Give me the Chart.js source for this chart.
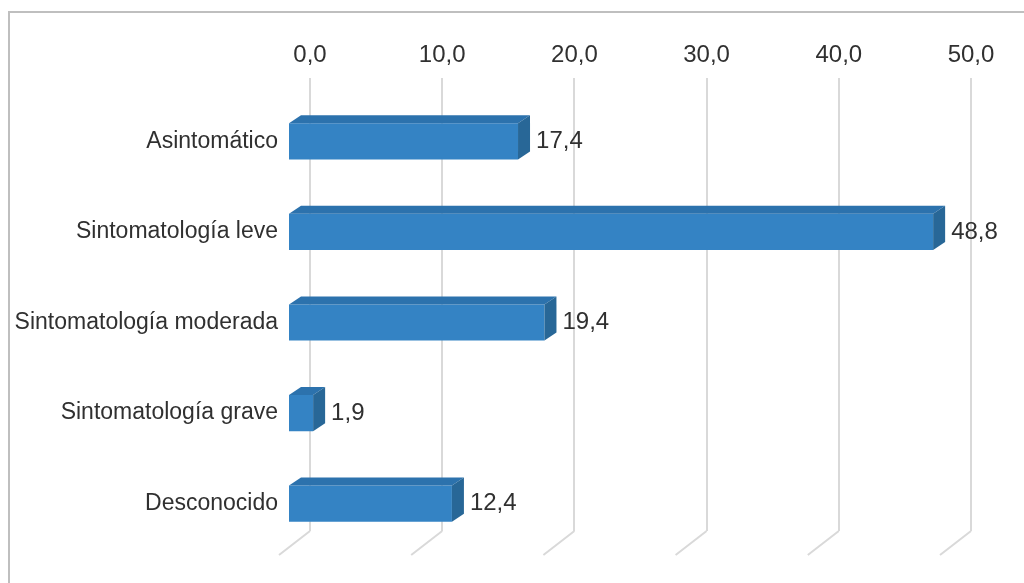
<!DOCTYPE html>
<html lang="es">
<head>
<meta charset="utf-8">
<title>Sintomatología</title>
<script src="https://cdn.jsdelivr.net/npm/chart.js@4/dist/chart.umd.min.js"></script>
<style>
  html, body { margin: 0; padding: 0; background: #fff; overflow: hidden; }
  #marco { position: absolute; left: 8px; top: 11px; width: 1100px; height: 700px;
           border-top: 2px solid #bfbfbf; border-left: 2px solid #bfbfbf; }
  #grafico { position: absolute; left: 0; top: 0; }
</style>
</head>
<body>
<div id="marco"></div>
<canvas id="grafico" width="1024" height="583"></canvas>
<script>
// datos
const categorias = ['Asintomático', 'Sintomatología leve', 'Sintomatología moderada', 'Sintomatología grave', 'Desconocido'];
const porcentajes = [17.4, 48.8, 19.4, 1.9, 12.4];
const ejeMin = 0;
const ejeMax = 50;
const ejePaso = 10;

// efecto 3D: desplazamiento de la cara frontal y profundidad de la barra
const FRENTE = { dx: -22, dy: 18 };
const FONDO = { dx: 12, dy: -8 };
const colorTexto = '#303030';

const formatoComa = v => Number(v).toFixed(1).replace('.', ',');

const barras3D = {
    id: 'barras3D',
    beforeDatasetsDraw(chart) {
        const ctx = chart.ctx;
        ctx.save();
        ctx.translate(FRENTE.dx, FRENTE.dy);
    },
    afterDatasetsDraw(chart) {
        const ctx = chart.ctx;
        const meta = chart.getDatasetMeta(0);
        meta.data.forEach((bar, i) => {
            const { x, y, base, height } = bar.getProps(['x', 'y', 'base', 'height'], true);
            const top = y - height / 2, bottom = y + height / 2;
            // cara superior
            ctx.beginPath();
            ctx.moveTo(base, top);
            ctx.lineTo(x, top);
            ctx.lineTo(x + FONDO.dx, top + FONDO.dy);
            ctx.lineTo(base + FONDO.dx, top + FONDO.dy);
            ctx.closePath();
            ctx.fillStyle = '#2c72ad';
            ctx.fill();
            // cara lateral
            ctx.beginPath();
            ctx.moveTo(x, top);
            ctx.lineTo(x + FONDO.dx, top + FONDO.dy);
            ctx.lineTo(x + FONDO.dx, bottom + FONDO.dy);
            ctx.lineTo(x, bottom);
            ctx.closePath();
            ctx.fillStyle = '#286797';
            ctx.fill();
            // etiqueta de valor
            ctx.fillStyle = colorTexto;
            ctx.font = '24px "Liberation Sans", Arial, sans-serif';
            ctx.textAlign = 'left';
            ctx.textBaseline = 'middle';
            ctx.fillText(formatoComa(porcentajes[i]), x + FONDO.dx + 6, y);
        });
        ctx.restore();
    },
    afterDraw(chart) {
        // líneas del suelo en perspectiva
        const ctx = chart.ctx;
        const xScale = chart.scales.x;
        const fondo = chart.chartArea.bottom;
        ctx.save();
        ctx.strokeStyle = '#d9d9d9';
        ctx.lineWidth = 2;
        xScale.ticks.forEach(t => {
            const px = xScale.getPixelForValue(t.value);
            ctx.beginPath();
            ctx.moveTo(px, fondo);
            ctx.lineTo(px - 31, fondo + 24);
            ctx.stroke();
        });
        ctx.restore();
    }
};

new Chart(document.getElementById('grafico'), {
    type: 'bar',
    data: {
        labels: categorias,
        datasets: [{
            data: porcentajes,
            backgroundColor: '#3483c4',
            borderWidth: 0,
            categoryPercentage: 1,
            barPercentage: 0.4,
            clip: false
        }]
    },
    options: {
        indexAxis: 'y',
        responsive: false,
        animation: false,
        layout: { padding: { left: 0, right: 53, top: 0, bottom: 52 } },
        plugins: { legend: { display: false }, tooltip: { enabled: false } },
        scales: {
            x: {
                position: 'top',
                min: ejeMin,
                max: ejeMax,
                afterFit: s => { s.height = 78; },
                ticks: {
                    stepSize: ejePaso,
                    padding: 8,
                    color: colorTexto,
                    font: { family: '"Liberation Sans", Arial, sans-serif', size: 24 },
                    callback: v => formatoComa(v)
                },
                grid: { color: '#d9d9d9', lineWidth: 2, drawTicks: false },
                border: { display: false }
            },
            y: {
                afterFit: s => { s.width = 310; },
                ticks: {
                    padding: 32,
                    labelOffset: 18,
                    color: colorTexto,
                    font: { family: '"Liberation Sans", Arial, sans-serif', size: 23 }
                },
                grid: { display: false, drawTicks: false },
                border: { display: false }
            }
        }
    },
    plugins: [barras3D]
});
</script>
</body>
</html>
